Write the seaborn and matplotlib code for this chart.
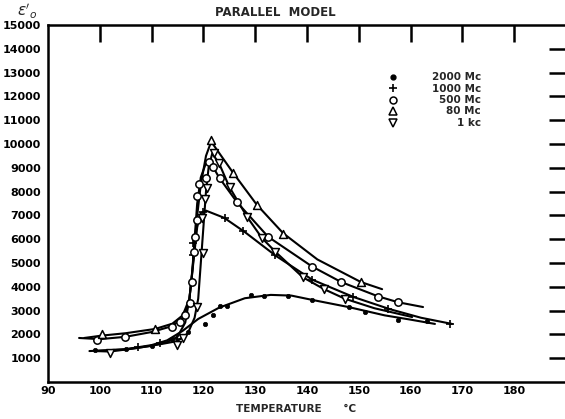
import matplotlib
matplotlib.use("Agg")
import matplotlib.pyplot as plt
import seaborn as sns
import pandas as pd

# ---- data ----
# 2000 Mc (filled dots)
m2000_x = [99.1, 105, 110, 114, 117, 120.3, 121.9, 123.2, 124.6, 129.2, 131.7, 136.3, 141, 148.1, 151.2, 157.6, 163.2]
m2000_y = [1340, 1370, 1500, 1800, 2100, 2440, 2810, 3180, 3180, 3650, 3610, 3610, 3440, 3150, 2940, 2600, 2560]
c2000_x = [99, 105, 110, 113, 116, 119, 123, 128, 133, 137, 141, 148, 155, 160, 164.7]
c2000_y = [1300, 1380, 1550, 1750, 2150, 2650, 3120, 3520, 3660, 3630, 3450, 3150, 2800, 2620, 2440]

# 1000 Mc (plus)
m1000_x = [107.4, 111.6, 115.0, 118.0, 118.0, 119.9, 124.2, 127.6, 133.8, 141, 148.9, 155.6, 167.6]
m1000_y = [1470, 1640, 1800, 5330, 5840, 7140, 6890, 6340, 5330, 4280, 3570, 3060, 2440]
c1000_x = [98, 105, 110, 113, 115, 116.5, 117.3, 117.8, 118.3, 118.8, 119.5, 120.5, 124, 128, 134, 141, 149, 156, 162, 168]
c1000_y = [1300, 1370, 1520, 1680, 1900, 2500, 3500, 4500, 5500, 6500, 7100, 7200, 6900, 6300, 5300, 4300, 3570, 3060, 2700, 2440]

# 500 Mc (open circles)
m500_x = [99.5, 104.9, 113.9, 115.5, 116.4, 117.4, 117.8, 118.2, 118.4, 118.8, 118.8, 119.2, 120.5, 121.1, 121.9, 123.2, 126.5, 132.5, 141, 146.6, 153.7, 157.6]
m500_y = [1760, 1890, 2310, 2520, 2810, 3320, 4200, 5460, 6090, 6800, 7810, 8320, 8570, 9240, 9030, 8570, 7560, 6090, 4830, 4200, 3570, 3360]
c500_x = [96, 100, 105, 110, 114, 116, 117.2, 117.8, 118.3, 118.8, 119.5, 120.5, 121.2, 123, 126.5, 132.5, 141, 146.6, 153.7, 157.6, 162.4]
c500_y = [1850, 1800, 1900, 2100, 2350, 2700, 3300, 4500, 6000, 7500, 8600, 9200, 9300, 8600, 7550, 6100, 4850, 4200, 3600, 3350, 3150]

# 80 Mc (open triangles up)
m80_x = [100.4, 110.7, 121.5, 125.7, 130.3, 135.4, 150.4]
m80_y = [2020, 2230, 10160, 8780, 7430, 6220, 4200]
c80_x = [97, 100.4, 105, 110.7, 114, 116, 117.3, 118, 118.7, 119.5, 120.5, 121.5, 125.7, 130.3, 135.4, 142, 150.4, 154.5]
c80_y = [1850, 1950, 2050, 2230, 2450, 2800, 3500, 5000, 6800, 8300, 9500, 10100, 8800, 7450, 6250, 5150, 4200, 3900]

# 1 kc (open triangles down)
m1k_x = [102, 114.9, 116, 118.7, 119.9, 119.7, 120.3, 120.7, 122, 123, 125.1, 128.4, 131.3, 133.8, 139.2, 143.3, 147.3]
m1k_y = [1220, 1550, 1850, 3150, 5420, 6890, 7690, 8150, 9620, 9200, 8190, 6930, 6050, 5460, 4410, 3910, 3490]
c1k_x = [99, 102, 107, 112, 115, 117, 118.3, 119, 119.5, 120, 120.5, 121, 121.7, 123, 125, 128.4, 131.3, 134, 139.2, 143.3, 147.3, 153, 160.3]
c1k_y = [1300, 1280, 1420, 1600, 1720, 2050, 2700, 3500, 5000, 6500, 8000, 9000, 9600, 9200, 8200, 6950, 6050, 5450, 4400, 3900, 3500, 3100, 2730]

legend_labels = ["2000 Mc", "1000 Mc", "500 Mc", "80 Mc", "1 kc"]
x_ticks = [90, 100, 110, 120, 130, 140, 150, 160, 170, 180]
y_ticks = [1000, 2000, 3000, 4000, 5000, 6000, 7000, 8000, 9000, 10000, 11000, 12000, 13000, 14000, 15000]

# ---- figure ----
sns.set_style("white")
plt.rcParams['font.family'] = ['DejaVu Sans']
fig = plt.figure(figsize=(5.65, 4.19), dpi=100)
ax = fig.add_axes([48/565, 37/419, 518/565, 357/419])

curves = [(c2000_x, c2000_y), (c1000_x, c1000_y), (c500_x, c500_y), (c80_x, c80_y), (c1k_x, c1k_y)]
for cx, cy in curves:
    df = pd.DataFrame({"x": cx, "y": cy})
    sns.lineplot(data=df, x="x", y="y", sort=False, color="black", lw=1.5, ax=ax, estimator=None)

mk = [
    (m2000_x, m2000_y, dict(marker="o", s=10, facecolor="black", edgecolor="black", linewidth=0.5)),
    (m1000_x, m1000_y, dict(marker="+", s=40, color="black", linewidth=1.2)),
    (m500_x, m500_y, dict(marker="o", s=28, facecolor="white", edgecolor="black", linewidth=1.1)),
    (m80_x, m80_y, dict(marker="^", s=32, facecolor="white", edgecolor="black", linewidth=1.1)),
    (m1k_x, m1k_y, dict(marker="v", s=32, facecolor="white", edgecolor="black", linewidth=1.1)),
]
for mx, my, kw in mk:
    df = pd.DataFrame({"x": mx, "y": my})
    sns.scatterplot(data=df, x="x", y="y", ax=ax, zorder=3, **kw)

ax.set_xlim(90, 190)
ax.set_ylim(0, 15000)
ax.set_xticks(x_ticks)
ax.set_xticklabels([str(t) for t in x_ticks])
ax.set_yticks(y_ticks)
ax.set_yticklabels([str(t) for t in y_ticks])
ax.set_xlabel("")
ax.set_ylabel("")

for sp in ["left", "bottom", "top"]:
    ax.spines[sp].set_linewidth(1.8)
    ax.spines[sp].set_color("black")
ax.spines["right"].set_visible(False)

ax.tick_params(axis="both", which="both", direction="in", length=12, width=1.8,
               top=True, right=True, labelsize=8, colors="black")
ax.tick_params(axis="x", pad=3)
ax.tick_params(axis="y", pad=5)
for lab in ax.get_xticklabels() + ax.get_yticklabels():
    lab.set_fontweight("bold")
# hide the tick marks at axis extremes
for t in ax.xaxis.get_major_ticks():
    if t.get_loc() == 90:
        t.tick1line.set_visible(False)
        t.tick2line.set_visible(False)
for t in ax.yaxis.get_major_ticks():
    if t.get_loc() == 15000:
        t.tick1line.set_visible(False)
        t.tick2line.set_visible(False)

# legend (manual)
leg_kw = [
    dict(marker="o", ms=3.5, mfc="black", mec="black"),
    dict(marker="+", ms=6, mec="black", mew=1.2),
    dict(marker="o", ms=5, mfc="white", mec="black", mew=1.1),
    dict(marker="^", ms=5.5, mfc="white", mec="black", mew=1.1),
    dict(marker="v", ms=5.5, mfc="white", mec="black", mew=1.1),
]
for i, (lab, kw) in enumerate(zip(legend_labels, leg_kw)):
    yy = 1 - (77 - 25 + i * 11.5) / 357
    ax.plot([(393 - 48) / 518], [yy], transform=ax.transAxes, ls="none", **kw)
    ax.text((481 - 48) / 518, yy, lab, transform=ax.transAxes, ha="right", va="center",
            fontsize=7.5, fontweight="bold")

fig.text(275 / 565, 1 - 13 / 419, "PARALLEL  MODEL", ha="center", va="center",
         fontsize=8.5, fontweight="bold")
fig.text(296 / 565, 1 - 409 / 419, "TEMPERATURE      °C", ha="center", va="center",
         fontsize=7.5, fontweight="bold")
fig.text(27 / 565, 1 - 11 / 419, r"$\varepsilon'_o$", ha="center", va="center", fontsize=11)

fig.savefig("out.png", dpi=100)
